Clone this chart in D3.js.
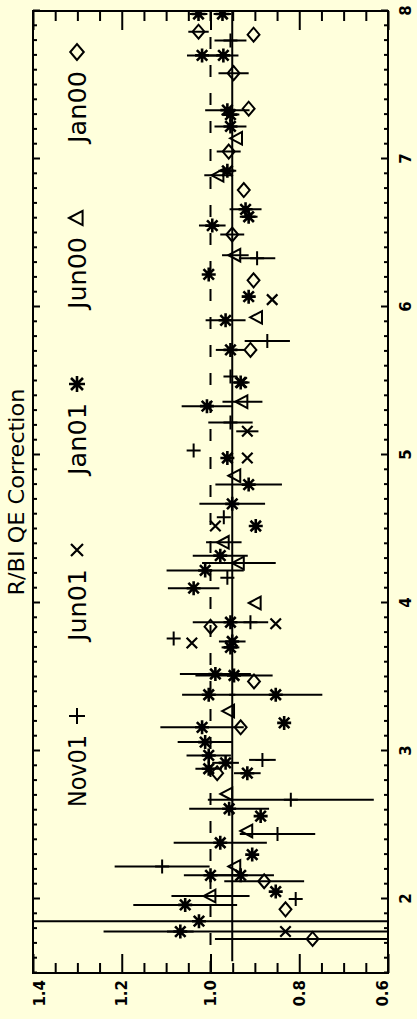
<!DOCTYPE html>
<html><head><meta charset="utf-8">
<script src="https://cdn.jsdelivr.net/npm/d3@7"></script>
<style>html,body{margin:0;padding:0;background:#ffffdc;} svg{display:block;}</style>
</head><body>
<script>
// ---------- data ----------
const xTicks = [2, 3, 4, 5, 6, 7, 8];
const yTicks = [0.6, 0.8, 1.0, 1.2, 1.4];
const xDomain = [1.5, 8];
const yDomain = [0.6, 1.4];
const titleText = "R/BI QE Correction";
const seriesNames = ["Nov01", "Jun01", "Jan01", "Jun00", "Jan00"];
const seriesSymbols = ["plus", "cross", "asterisk", "triangle", "diamond"];

const nov01X = [7.80, 6.33, 5.77, 5.53, 5.22, 5.03, 4.58, 4.17, 3.87, 3.76, 2.94, 2.67, 2.44, 2.22, 2.00];
const nov01Y = [0.955, 0.895, 0.872, 0.955, 0.955, 1.038, 0.970, 0.962, 0.910, 1.083, 0.883, 0.819, 0.849, 1.109, 0.808];
const nov01E = [0.036, 0.041, 0.051, 0, 0.050, 0, 0, 0, 0, 0, 0.03, 0.187, 0.085, 0.107, 0];

const jun01X = [6.05, 5.49, 5.16, 4.98, 4.52, 3.86, 3.73, 1.78];
const jun01Y = [0.861, 0.930, 0.917, 0.917, 0.989, 0.853, 1.042, 0.831];
const jun01E = [0, 0, 0.025, 0, 0, 0, 0, 0.41];

const jan01X = [7.98, 7.98, 7.70, 7.70, 7.33, 7.30, 7.22, 6.92, 6.66, 6.61, 6.55, 6.22, 6.07, 5.91, 5.71, 5.49, 5.33, 4.98, 4.80, 4.67, 4.52, 4.32, 4.22, 4.10, 3.87, 3.74, 3.70, 3.51, 3.52, 3.38, 3.38, 3.19, 3.16, 3.06, 2.97, 2.88, 2.92, 2.85, 2.61, 2.56, 2.38, 2.30, 2.16, 2.16, 2.05, 1.96, 1.85, 1.78];
const jan01Y = [1.027, 0.973, 1.019, 0.971, 0.962, 0.955, 0.955, 0.962, 0.921, 0.914, 0.996, 1.004, 0.914, 0.966, 0.955, 0.932, 1.008, 0.962, 0.914, 0.951, 0.898, 0.978, 1.012, 1.038, 0.955, 0.951, 0.955, 0.947, 0.989, 1.004, 0.853, 0.834, 1.019, 1.012, 1.004, 1.004, 0.966, 0.917, 0.958, 0.887, 0.978, 0.906, 1.000, 0.932, 0.853, 1.057, 1.026, 1.068];
const jan01E = [0.02, 0.02, 0.034, 0.034, 0.05, 0.02, 0.036, 0.02, 0.036, 0.02, 0.03, 0, 0.015, 0.045, 0.033, 0.02, 0.057, 0.01, 0.075, 0.074, 0, 0.062, 0.087, 0.058, 0.085, 0.03, 0.02, 0.087, 0.08, 0.06, 0.105, 0, 0.094, 0.062, 0.05, 0.03, 0.03, 0.03, 0.09, 0, 0.105, 0, 0.06, 0.075, 0, 0.117, 0.45, 0.03];

const jun00X = [7.14, 6.89, 6.35, 5.93, 5.36, 4.86, 4.41, 4.27, 4.00, 3.27, 2.71, 2.46, 2.22, 2.02];
const jun00Y = [0.940, 0.982, 0.944, 0.895, 0.928, 0.944, 0.970, 0.936, 0.898, 0.958, 0.962, 0.917, 0.944, 1.000];
const jun00E = [0, 0.032, 0.03, 0, 0.045, 0, 0.04, 0.083, 0, 0, 0, 0, 0, 0.088];

const jan00X = [7.86, 7.84, 7.58, 7.34, 7.05, 6.79, 6.49, 6.18, 5.71, 3.84, 3.47, 3.16, 2.85, 2.12, 1.93, 1.73];
const jan00Y = [1.027, 0.903, 0.948, 0.914, 0.959, 0.925, 0.951, 0.903, 0.910, 1.000, 0.902, 0.932, 0.985, 0.879, 0.831, 0.770];
const jan00E = [0.023, 0, 0.034, 0, 0.027, 0, 0.027, 0, 0, 0, 0, 0, 0, 0.09, 0, 0.22];

const refValue = 1.0;
const fitValue = 0.951;
const fitRange = [1.58, 8];

// ---------- drawing ----------
const W = 417, H = 1019;
const bg = "#ffffdc";
const font = "'DejaVu Sans', sans-serif";
const svg = d3.select("body").append("svg").attr("width", W).attr("height", H);
svg.append("rect").attr("width", W).attr("height", H).attr("fill", bg);

// chart is drawn landscape and rotated into the portrait page
const g = svg.append("g").attr("transform", `translate(0,${H}) rotate(-90)`);
const x = d3.scaleLinear().domain(xDomain).range([46, 1008]);
const y = d3.scaleLinear().domain(yDomain).range([388, 33]);
const [x0, x1] = x.range();
const [y1, y0] = y.range();

g.append("clipPath").attr("id", "plotclip").append("rect")
  .attr("x", x0).attr("y", y0).attr("width", x1 - x0).attr("height", y1 - y0);

const series = [
  {X: nov01X, Y: nov01Y, E: nov01E},
  {X: jun01X, Y: jun01Y, E: jun01E},
  {X: jan01X, Y: jan01Y, E: jan01E},
  {X: jun00X, Y: jun00Y, E: jun00E},
  {X: jan00X, Y: jan00Y, E: jan00E}
];

function symbolPath(type, s) {
  const a = s * 0.75;
  switch (type) {
    case "plus": return `M${-s},0H${s}M0,${-s}V${s}`;
    case "cross": return `M${-a},${-a}L${a},${a}M${-a},${a}L${a},${-a}`;
    case "asterisk": return `M${-s},0H${s}M0,${-s}V${s}M${-a},${-a}L${a},${a}M${-a},${a}L${a},${-a}`;
    case "triangle": return `M0,${-s}L${s * 0.9},${s * 0.7}L${-s * 0.9},${s * 0.7}Z`;
    case "diamond": return `M${-s},0L0,${-s * 0.85}L${s},0L0,${s * 0.85}Z`;
  }
}
const symbolWidth = {plus: 2, cross: 2.2, asterisk: 2.6, triangle: 2, diamond: 2};

const plot = g.append("g").attr("clip-path", "url(#plotclip)");

// reference lines
plot.append("line")
  .attr("x1", x(xDomain[0])).attr("x2", x(xDomain[1]))
  .attr("y1", y(refValue)).attr("y2", y(refValue))
  .attr("stroke", "#000").attr("stroke-width", 2).attr("stroke-dasharray", "12,16");
plot.append("line")
  .attr("x1", x(fitRange[0])).attr("x2", x(fitRange[1]))
  .attr("y1", y(fitValue)).attr("y2", y(fitValue))
  .attr("stroke", "#000").attr("stroke-width", 2);

series.forEach((s, si) => {
  const pts = s.X.map((xv, i) => ({x: xv, y: s.Y[i], e: s.E[i]}));
  const sg = plot.append("g");
  sg.selectAll("line.err").data(pts.filter(d => d.e > 0)).join("line")
    .attr("class", "err")
    .attr("x1", d => x(d.x)).attr("x2", d => x(d.x))
    .attr("y1", d => y(d.y - d.e)).attr("y2", d => y(d.y + d.e))
    .attr("stroke", "#000").attr("stroke-width", 2);
  sg.selectAll("path.sym").data(pts).join("path")
    .attr("class", "sym")
    .attr("transform", d => `translate(${x(d.x)},${y(d.y)})`)
    .attr("d", symbolPath(seriesSymbols[si], 7))
    .attr("fill", "none").attr("stroke", "#000")
    .attr("stroke-width", symbolWidth[seriesSymbols[si]]);
});

// axes
function styleAxis(sel) {
  sel.select(".domain").remove();
  sel.selectAll(".tick line").attr("stroke", "#000").attr("stroke-width", 2);
  sel.selectAll(".tick text").attr("fill", "#000").attr("font-family", font)
    .attr("font-size", 15).attr("font-weight", "bold");
}
const xMinor = d3.range(15, 81).map(v => v / 10).filter(v => !xTicks.includes(v));
const yMinor = d3.range(12, 29).map(v => v / 20).filter(v => !yTicks.some(t => Math.abs(t - v) < 1e-9));

g.append("g").attr("transform", `translate(0,${y1})`)
  .call(d3.axisBottom(x).tickValues(xTicks).tickSize(-7).tickSizeOuter(0).tickPadding(12).tickFormat(d3.format("d")))
  .call(styleAxis);
g.append("g").attr("transform", `translate(0,${y1})`)
  .call(d3.axisBottom(x).tickValues(xMinor).tickSize(-4).tickSizeOuter(0).tickFormat(""))
  .call(styleAxis);
g.append("g").attr("transform", `translate(0,${y0})`)
  .call(d3.axisTop(x).tickValues(xTicks).tickSize(-7).tickSizeOuter(0).tickFormat(""))
  .call(styleAxis);
g.append("g").attr("transform", `translate(0,${y0})`)
  .call(d3.axisTop(x).tickValues(xMinor).tickSize(-4).tickSizeOuter(0).tickFormat(""))
  .call(styleAxis);

const yAx = g.append("g").attr("transform", `translate(${x0},0)`)
  .call(d3.axisLeft(y).tickValues(yTicks).tickSize(-19).tickSizeOuter(0).tickPadding(7).tickFormat(d3.format(".1f")))
  .call(styleAxis);
yAx.selectAll(".tick text").attr("dy", d => d === yDomain[1] ? "0.75em" : d === yDomain[0] ? "-0.05em" : "0.32em");
g.append("g").attr("transform", `translate(${x0},0)`)
  .call(d3.axisLeft(y).tickValues(yMinor).tickSize(-10).tickSizeOuter(0).tickFormat(""))
  .call(styleAxis);
g.append("g").attr("transform", `translate(${x1},0)`)
  .call(d3.axisRight(y).tickValues(yTicks).tickSize(-19).tickSizeOuter(0).tickFormat(""))
  .call(styleAxis);
g.append("g").attr("transform", `translate(${x1},0)`)
  .call(d3.axisRight(y).tickValues(yMinor).tickSize(-10).tickSizeOuter(0).tickFormat(""))
  .call(styleAxis);

// frame
g.append("rect").attr("x", x0).attr("y", y0).attr("width", x1 - x0).attr("height", y1 - y0)
  .attr("fill", "none").attr("stroke", "#000").attr("stroke-width", 2);

// title
g.append("text").attr("x", (x0 + x1) / 2).attr("y", 24)
  .attr("text-anchor", "middle").attr("font-family", font).attr("font-size", 21)
  .attr("textLength", 207).attr("lengthAdjust", "spacingAndGlyphs")
  .attr("fill", "#000").text(titleText);

// legend (inside plot, along the top)
const legendStart = x0 + 166;
const legendStep = 166;
seriesNames.forEach((name, i) => {
  const lx = legendStart + i * legendStep;
  g.append("text").attr("x", lx).attr("y", 86)
    .attr("font-family", font).attr("font-size", 24)
    .attr("textLength", 72).attr("lengthAdjust", "spacingAndGlyphs")
    .attr("fill", "#000").text(name);
  g.append("path").attr("transform", `translate(${lx + 91},77)`)
    .attr("d", symbolPath(seriesSymbols[i], 8))
    .attr("fill", "none").attr("stroke", "#000")
    .attr("stroke-width", symbolWidth[seriesSymbols[i]]);
});
</script>
</body></html>
